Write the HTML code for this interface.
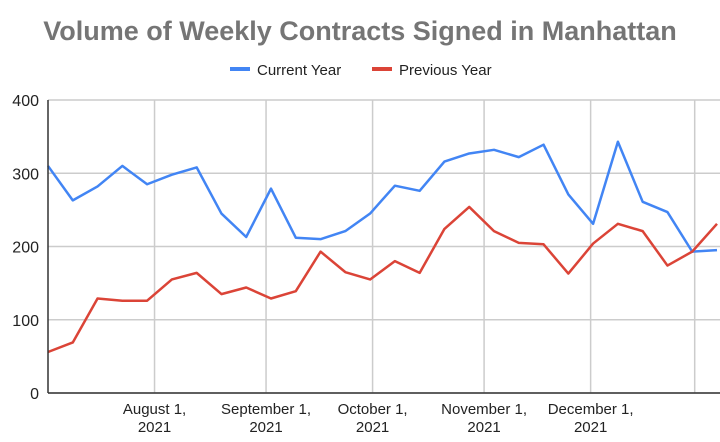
<!DOCTYPE html>
<html><head><meta charset="utf-8"><style>
body{margin:0;background:#fff;font-family:"Liberation Sans",Arial,sans-serif;}
svg{display:block}
</style></head><body>
<svg width="720" height="442" id="c">
<text x="360" y="40" text-anchor="middle" font-size="27" font-weight="bold" fill="#757575">Volume of Weekly Contracts Signed in Manhattan</text>
<g>
<line x1="230" y1="69" x2="250" y2="69" stroke="#4285f4" stroke-width="4"/>
<text x="257" y="75" font-size="15" fill="#222">Current Year</text>
<line x1="372" y1="69" x2="392" y2="69" stroke="#db4437" stroke-width="4"/>
<text x="399" y="75" font-size="15" fill="#222">Previous Year</text>
</g>
<g id="grid"></g><g id="lines"></g><g id="axes"></g>
</svg>
<script>
const yTicks=[0,100,200,300,400];
const monthLabels=["August 1,","September 1,","October 1,","November 1,","December 1,",""];
const monthWeekPos=[4.3,8.8,13.1,17.6,21.9,26.1];
const currentYear=[310,263,282,310,285,298,308,245,213,279,212,210,221,245,283,276,316,327,332,322,339,271,231,343,261,247,193,195];
const previousYear=[56,69,129,126,126,155,164,135,144,129,139,193,165,155,180,164,224,254,221,205,203,163,204,231,221,174,193,231];
const L=48,R=717,T=100,B=393,N=currentYear.length;
const xs=i=>L+(R-L)*i/(N-1);
const ys=v=>B-(B-T)*v/400;
const NS="http://www.w3.org/2000/svg";
function mk(t,a,p){const e=document.createElementNS(NS,t);for(const k in a)e.setAttribute(k,a[k]);p.appendChild(e);return e;}
const g=document.getElementById('grid'),ln=document.getElementById('lines'),ax=document.getElementById('axes');
yTicks.forEach(v=>{
 const l=mk('line',{x1:L,x2:R+3,y1:ys(v),y2:ys(v),stroke:'#cccccc','stroke-width':1.5},g);
 
 
 const t=mk('text',{x:39,y:ys(v)+6,'text-anchor':'end','font-size':16,fill:'#222'},ax);
 t.textContent=v;
 
 
});
monthWeekPos.forEach((w,i)=>{
 const x=xs(w);
 const l=mk('line',{x1:x,x2:x,y1:T,y2:B,stroke:'#cccccc','stroke-width':1.5},g);
 
 
 if(monthLabels[i]){
  const t=mk('text',{x:x,y:414,'text-anchor':'middle','font-size':15,fill:'#222'},ax);
  t.textContent=monthLabels[i];
  
  
  const t2=mk('text',{x:x,y:432,'text-anchor':'middle','font-size':15,fill:'#222'},ax);
  t2.textContent='2021';
  
  
 }
});
const xa=mk('line',{x1:L,x2:R+3,y1:B,y2:B,stroke:'#333','stroke-width':1.5},ax);


const ya=mk('line',{x1:L,x2:L,y1:T,y2:B,stroke:'#333','stroke-width':1.5},ax);


function series(d,c,name){
 const p=mk('polyline',{points:d.map((v,i)=>xs(i)+','+ys(v)).join(' '),fill:'none',stroke:c,'stroke-width':2.5,'stroke-linejoin':'round'},ln);
 
 
}
series(currentYear,'#4285f4','current-year-line');
series(previousYear,'#db4437','previous-year-line');
</script>
</body></html>
